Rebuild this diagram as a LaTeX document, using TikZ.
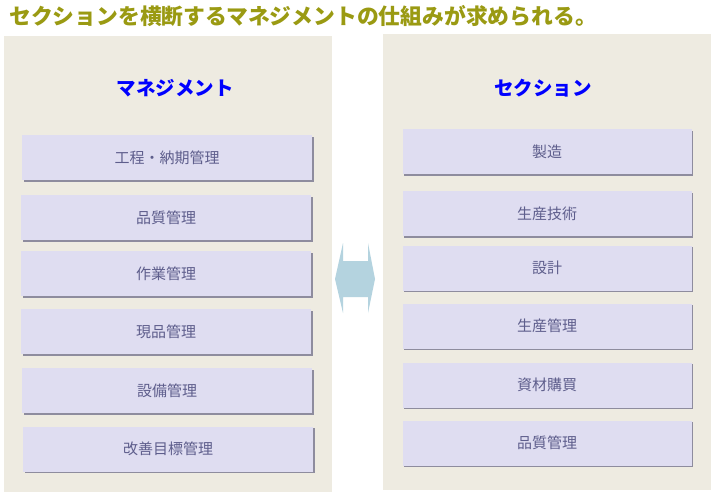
\documentclass[tikz,border=0pt]{standalone}
\usepackage{fontspec}
\newfontfamily\jp{Noto Sans CJK JP}
\usetikzlibrary{shadows}
\definecolor{panelbg}{HTML}{EEEBE1}
\definecolor{boxbg}{HTML}{DFDDF1}
\definecolor{boxtxt}{HTML}{5E5E8C}
\definecolor{boxshadow}{HTML}{8E8C9E}
\definecolor{titlecol}{HTML}{9A9A12}
\definecolor{arrowcol}{HTML}{B4D3DF}
\begin{document}
\begin{tikzpicture}[x=1pt,y=-1pt,
  panel/.style={fill=panelbg, draw=none, inner sep=0pt},
  item/.style={fill=boxbg, draw=none, inner sep=0pt, minimum width=290pt, minimum height=45pt,
    text=boxtxt, font=\jp\fontsize{15}{16}\selectfont,
    drop shadow={shadow xshift=1.6pt, shadow yshift=-1.6pt, fill=boxshadow, opacity=1}},
  head/.style={text=blue, font=\jp\bfseries\fontsize{19.5}{22}\selectfont, inner sep=0pt},
  heading/.style={text=titlecol, font=\jp\bfseries\fontsize{21.8}{24}\selectfont, inner sep=0pt, anchor=west}
]
\useasboundingbox (0,0) rectangle (714,496);
\fill[white] (0,0) rectangle (714,496);
% title
\node[heading] (title) at (9,16) {セクションを横断するマネジメントの仕組みが求められる。};
% panels
\node[panel, minimum width=328pt, minimum height=456pt] (lp) at (168,264) {};
\node[panel, minimum width=328pt, minimum height=456pt] (rp) at (547,262) {};
\node[head] (lh) at (175,88) {マネジメント};
\node[head] (rh) at (543,88) {セクション};
% left items
\node[item] (l1) at (167,157.5) {工程・納期管理};
\node[item] (l2) at (166,217.5) {品質管理};
\node[item] (l3) at (166,273.5) {作業管理};
\node[item] (l4) at (166,331.5) {現品管理};
\node[item] (l5) at (167,390.5) {設備管理};
\node[item] (l6) at (168,449) {改善目標管理};
% right items
\node[item, minimum width=289pt] (r1) at (547,151.5) {製造};
\node[item, minimum width=289pt] (r2) at (547,213.5) {生産技術};
\node[item, minimum width=289pt] (r3) at (547,268) {設計};
\node[item, minimum width=289pt] (r4) at (547,326) {生産管理};
\node[item, minimum width=289pt] (r5) at (547,385) {資材購買};
\node[item, minimum width=289pt] (r6) at (547,443) {品質管理};
% double arrow
\fill[arrowcol] (343,243) -- (343,261) -- (368,261) -- (368,243) -- (375,279) -- (368,313)
  -- (368,297) -- (343,297) -- (343,313) -- (335,279) -- cycle;
\end{tikzpicture}
\end{document}
